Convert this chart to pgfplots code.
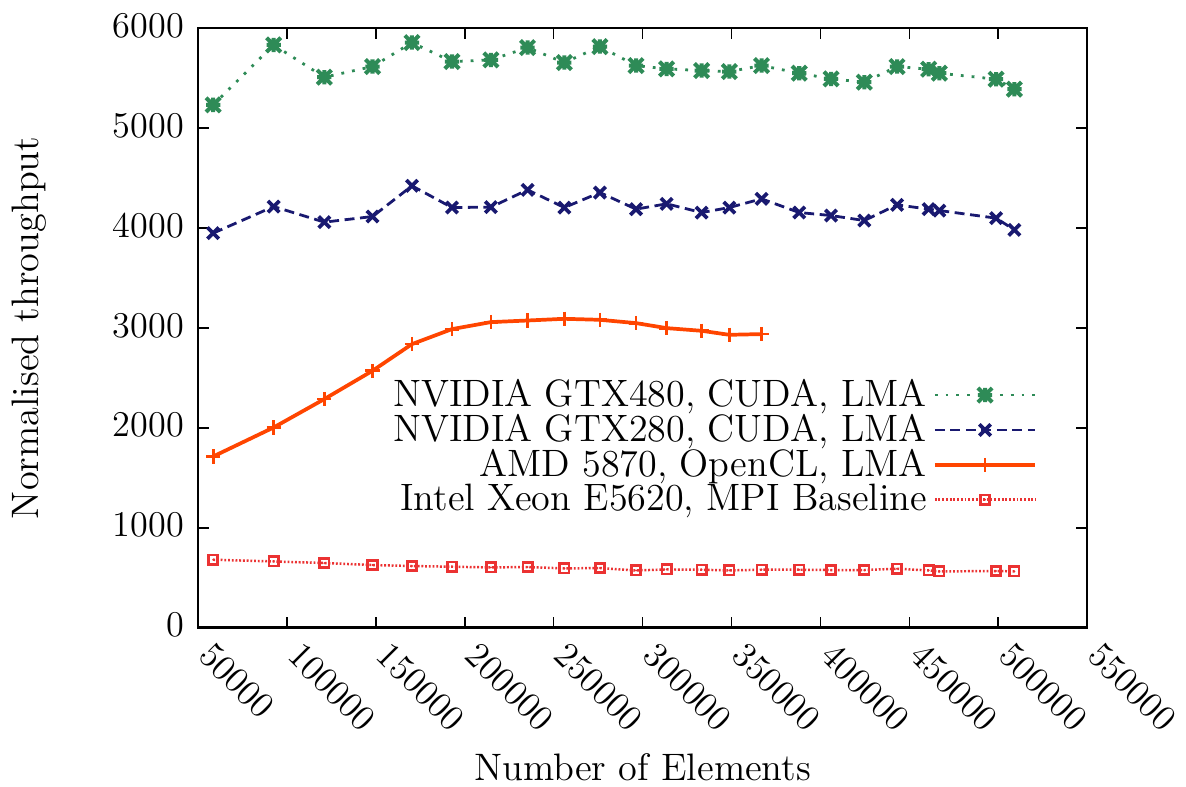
\documentclass[border=0pt]{standalone}
\usepackage{fontspec}
\usepackage{pgfplots}
\pgfplotsset{compat=1.18}
\definecolor{cgreen}{RGB}{46,139,87}
\definecolor{cnavy}{RGB}{25,25,112}
\definecolor{corange}{RGB}{255,69,0}
\definecolor{cred}{RGB}{235,50,50}
\pgfdeclareplotmark{gpstar}{%
  \pgfpathmoveto{\pgfqpoint{-\pgfplotmarksize}{0pt}}\pgfpathlineto{\pgfqpoint{\pgfplotmarksize}{0pt}}%
  \pgfpathmoveto{\pgfqpoint{0pt}{-\pgfplotmarksize}}\pgfpathlineto{\pgfqpoint{0pt}{\pgfplotmarksize}}%
  \pgfpathmoveto{\pgfqpoint{-\pgfplotmarksize}{-\pgfplotmarksize}}\pgfpathlineto{\pgfqpoint{\pgfplotmarksize}{\pgfplotmarksize}}%
  \pgfpathmoveto{\pgfqpoint{-\pgfplotmarksize}{\pgfplotmarksize}}\pgfpathlineto{\pgfqpoint{\pgfplotmarksize}{-\pgfplotmarksize}}%
  \pgfusepathqstroke}
\pgfdeclareplotmark{gpbox}{%
  \pgfpathrectangle{\pgfqpoint{-\pgfplotmarksize}{-\pgfplotmarksize}}{\pgfqpoint{2\pgfplotmarksize}{2\pgfplotmarksize}}%
  \pgfusepathqstroke
  \pgfpathcircle{\pgfpointorigin}{0.35pt}\pgfusepathqfill}
\pgfplotstableread{
x y
58500 5230
92500 5830
121000 5507
148100 5613
170300 5853
192800 5663
214700 5680
235300 5803
256000 5653
276000 5813
296300 5623
313500 5590
333200 5573
348800 5563
366900 5623
388100 5547
406000 5490
424700 5457
443100 5613
460900 5587
466900 5547
498800 5487
509100 5387
}\gtxfour
\pgfplotstableread{
x y
58500 3947
92500 4213
121000 4057
148100 4113
170300 4420
192800 4203
214700 4207
235300 4380
256000 4203
276000 4353
296300 4187
313500 4240
333200 4153
348800 4203
366900 4290
388100 4153
406000 4123
424700 4073
443100 4230
460900 4187
466900 4173
498800 4097
509100 3980
}\gtxtwo
\pgfplotstableread{
x y
58500 1713
92500 2003
121000 2287
148100 2570
170300 2837
192800 2987
214700 3057
235300 3073
256000 3090
276000 3080
296300 3047
313500 2997
333200 2970
348800 2930
366900 2937
}\amd
\pgfplotstableread{
x y
58500 680
92500 663
121000 647
148100 627
170300 617
192800 610
214700 603
235300 607
256000 593
276000 597
296300 573
313500 583
333200 580
348800 573
366900 580
388100 580
406000 577
424700 577
443100 590
460900 573
466900 563
498800 567
509100 563
}\xeon
\begin{document}
\begin{tikzpicture}
\path[use as bounding box] (-63.9pt,-51.3pt) rectangle (318.7pt,202.5pt);
\begin{axis}[
  font=\fontsize{12.35}{14}\selectfont,
  scale only axis,
  width=286.8pt, height=193.5pt,
  xmin=50000, xmax=550000, ymin=0, ymax=6000,
  xtick={50000,100000,...,550000},
  ytick={0,1000,...,6000},
  scaled x ticks=false, scaled y ticks=false,
  /pgf/number format/fixed, /pgf/number format/1000 sep={},
  /pgf/number format/assume math mode=true,
  tick label style={font=\fontsize{11.7}{14}\selectfont, inner sep=0pt},
  x tick label style={xshift=5.2pt, yshift=-3.9pt, rotate=-45, anchor=north west},
  y tick label style={anchor=east, xshift=-4.4pt, yshift=0.8pt},
  tick pos=both, tick align=inside,
  major tick length=3.5pt,
  axis line style={line width=0.8pt},
  every tick/.style={black, line width=0.5pt},
  xlabel={Number of Elements},
  ylabel={Normalised throughput},
  every axis x label/.style={at={(axis description cs:0.5,-0.233)}, anchor=center},
  every axis y label/.style={at={(axis description cs:-0.19,0.5)}, rotate=90, anchor=center},
  legend style={draw=none, fill=none, at={(0.955,0.301)}, anchor=east, row sep=-3pt, font=\fontsize{12.3}{14}\selectfont},
  legend cell align=right,
  legend plot pos=right,
  legend image code/.code={\draw[mark repeat=2,mark phase=2] plot coordinates {(0cm,0cm) (0.57cm,0cm) (1.14cm,0cm)};},
]
\addplot[cgreen, line width=0.9pt, dash pattern=on 0.9pt off 2.6pt, mark=gpstar, mark size=2.3pt, mark options={solid, line width=1.3pt}] table {\gtxfour};
\addlegendentry{NVIDIA GTX480, CUDA, LMA}
\addplot[cnavy, line width=0.9pt, dash pattern=on 3.2pt off 1.8pt, mark=x, mark size=2.6pt, mark options={solid, line width=1.2pt}] table {\gtxtwo};
\addlegendentry{NVIDIA GTX280, CUDA, LMA}
\addplot[corange, line width=1.2pt, solid, mark=+, mark size=2.3pt, mark options={solid, line width=0.9pt}] table {\amd};
\addlegendentry{AMD 5870, OpenCL, LMA}
\addplot[cred, line width=0.8pt, dash pattern=on 0.6pt off 0.6pt, mark=gpbox, mark size=1.5pt, mark options={solid, line width=0.9pt}] table {\xeon};
\addlegendentry{Intel Xeon E5620, MPI Baseline}
\end{axis}
\end{tikzpicture}
\end{document}
